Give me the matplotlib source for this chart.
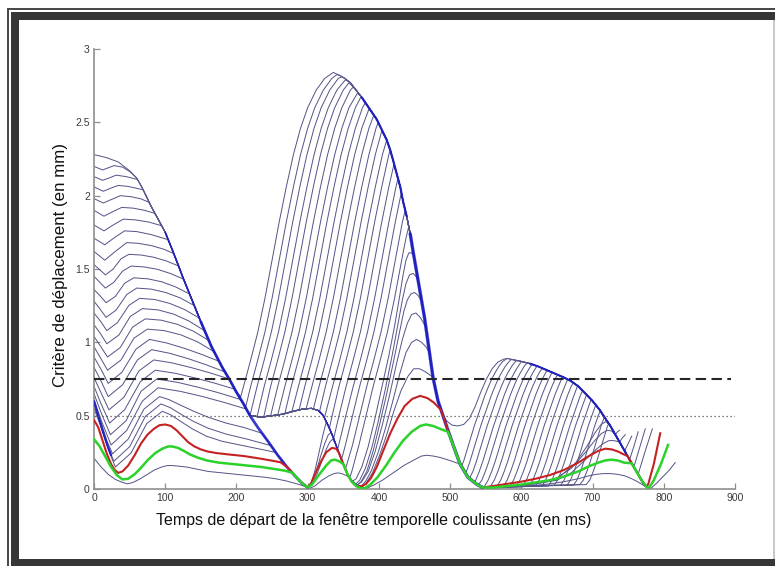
import matplotlib
matplotlib.use("Agg")
import matplotlib.pyplot as plt
from matplotlib.patches import Rectangle

# ---------------- data ----------------
X_TICKS = [0, 100, 200, 300, 400, 500, 600, 700, 800, 900]
Y_TICKS = [0, 0.5, 1, 1.5, 2, 2.5, 3]
Y_TICK_LABELS = ["0", "0.5", "1", "1.5", "2", "2.5", "3"]
THRESH_DASHED = 0.75
THRESH_DOTTED = 0.5

# shared envelopes (where many curves coincide)
ENV_A_X = [0, 17, 34, 50, 60, 67, 74, 81, 90, 100, 110, 118, 125, 135, 150, 165, 180, 191, 200, 210, 219, 230, 245, 258, 271, 282, 292, 300]
ENV_A_Y = [2.28, 2.26, 2.23, 2.17, 2.12, 2.06, 1.99, 1.92, 1.84, 1.75, 1.63, 1.53, 1.44, 1.32, 1.14, 0.97, 0.83, 0.74, 0.66, 0.58, 0.50, 0.42, 0.32, 0.23, 0.15, 0.09, 0.04, 0.01]
FLOOR_X = [219, 235, 250, 265, 280, 293, 305, 315, 322, 330, 336, 342, 350, 356, 362, 368, 375]
FLOOR_Y = [0.50, 0.49, 0.50, 0.51, 0.53, 0.545, 0.55, 0.535, 0.50, 0.42, 0.35, 0.27, 0.17, 0.10, 0.05, 0.02, 0.005]
ENV_B_X = [336, 345, 352, 360, 368, 376, 383, 390, 397, 404, 411, 416, 420, 425, 430, 434, 439, 444, 448, 453, 458, 464, 469, 476, 483, 490, 497, 505, 514, 525, 538, 546]
ENV_B_Y = [2.85, 2.82, 2.80, 2.77, 2.72, 2.67, 2.62, 2.57, 2.52, 2.45, 2.38, 2.31, 2.24, 2.15, 2.06, 1.96, 1.86, 1.74, 1.62, 1.48, 1.34, 1.17, 1.00, 0.76, 0.60, 0.50, 0.40, 0.29, 0.17, 0.08, 0.03, 0.01]
ENV_C_X = [569, 580, 590, 600, 612, 624, 636, 648, 660, 670, 680, 690, 700, 710, 718, 725, 732, 738, 745, 752, 758, 764, 770, 775, 779]
ENV_C_Y = [0.885, 0.89, 0.88, 0.87, 0.855, 0.835, 0.81, 0.785, 0.76, 0.735, 0.70, 0.65, 0.60, 0.54, 0.48, 0.43, 0.37, 0.32, 0.26, 0.20, 0.15, 0.10, 0.05, 0.02, 0.005]
ENV_L_X = [0, 6, 12, 18, 24]
ENV_L_Y = [0.60, 0.50, 0.40, 0.31, 0.23]

# individual curves: literal (x, y) points plus slices of the shared envelopes
G0 = [('A', 0, 200), (206, 0.63), (210, 0.70), (220, 0.88), (230, 1.07), (240, 1.30), (250, 1.56), (260, 1.82), (270, 2.06), (280, 2.28), (290, 2.46), (300, 2.60), (312, 2.72), (324, 2.80), (336, 2.84), ('B', 345, 490), (496, 0.46), (503, 0.435), (511, 0.43), (519, 0.44), (527, 0.48), (535, 0.56), (543, 0.66), (551, 0.75), (559, 0.82), (567, 0.865), (575, 0.885), ('C', 580, 779)]
G1 = [(0, 2.20), (12, 2.175), (20, 2.19), (28, 2.205), (40, 2.195), (50, 2.165), ('A', 60, 210), (213, 0.56), (220, 0.70), (230, 0.88), (240, 1.07), (250, 1.30), (260, 1.56), (270, 1.82), (280, 2.06), (290, 2.28), (300, 2.46), (310, 2.60), (322, 2.72), (334, 2.80), (341, 2.825), ('B', 345, 514), (516, 0.155), (519, 0.19), (524, 0.27), (529, 0.35), (534, 0.43), (539, 0.50), (544, 0.57), (549, 0.64), (554, 0.70), (559, 0.755), (564, 0.80), (569, 0.84), (574, 0.87), ('C', 580, 779)]
G2 = [(0, 2.13), (12, 2.105), (21, 2.12), (31, 2.14), (45, 2.13), (55, 2.118), (61, 2.11), ('A', 67, 219), (229, 0.70), (239, 0.88), (249, 1.07), (259, 1.30), (269, 1.56), (279, 1.82), (289, 2.06), (299, 2.28), (309, 2.46), (319, 2.60), (331, 2.72), (343, 2.80), (348, 2.81), ('B', 352, 514), (521.5, 0.105), (523, 0.12), (528, 0.19), (533, 0.27), (538, 0.35), (543, 0.43), (548, 0.50), (553, 0.57), (558, 0.64), (563, 0.70), (568, 0.755), (573, 0.80), (578, 0.84), (583, 0.87), (586, 0.883), ('C', 590, 779)]
G3 = [(0, 2.06), (13, 2.03), (23, 2.05), (34, 2.07), (48, 2.063), (60, 2.05), (69, 2.04), ('A', 74, 219), (229, 0.495), (239, 0.70), (249, 0.88), (259, 1.07), (269, 1.30), (279, 1.56), (289, 1.82), (299, 2.06), (309, 2.28), (319, 2.46), (329, 2.60), (341, 2.72), (353, 2.79), ('B', 360, 525), (527, 0.07), (532, 0.12), (537, 0.19), (542, 0.27), (547, 0.35), (552, 0.43), (557, 0.50), (562, 0.57), (567, 0.64), (572, 0.70), (577, 0.755), (582, 0.80), (587, 0.84), (592, 0.87), (594, 0.876), ('C', 600, 779)]
G4 = [(0, 1.98), (13, 1.95), (25, 1.975), (37, 2.00), (52, 1.993), (66, 1.978), (77, 1.955), ('A', 81, 219), ('F', 235, 235), (238.5, 0.495), (248, 0.70), (258, 0.88), (268, 1.07), (278, 1.30), (288, 1.56), (298, 1.82), (308, 2.06), (318, 2.28), (328, 2.46), (338, 2.60), (350, 2.72), (358, 2.77), ('B', 368, 525), (533.5, 0.045), (536, 0.06), (541, 0.12), (546, 0.19), (551, 0.27), (556, 0.35), (561, 0.43), (566, 0.50), (571, 0.57), (576, 0.64), (581, 0.70), (586, 0.755), (591, 0.80), (596, 0.84), (600, 0.868), ('C', 612, 779)]
G5 = [(0, 1.90), (14, 1.86), (26, 1.89), (39, 1.92), (55, 1.915), (71, 1.90), (85, 1.88), ('A', 90, 219), ('F', 235, 235), (248, 0.50), (258, 0.70), (268, 0.88), (278, 1.07), (288, 1.30), (298, 1.56), (308, 1.82), (318, 2.06), (328, 2.28), (338, 2.46), (348, 2.60), (360, 2.72), (364, 2.74), ('B', 368, 538), (539.5, 0.025), (544.5, 0.06), (549.5, 0.12), (554.5, 0.19), (559.5, 0.27), (564.5, 0.35), (569.5, 0.43), (574.5, 0.50), (579.5, 0.57), (584.5, 0.64), (589.5, 0.70), (594.5, 0.755), (599.5, 0.80), (604.5, 0.84), (608, 0.86), ('C', 612, 779)]
G6 = [(0, 1.80), (14, 1.76), (27, 1.80), (41, 1.84), (58, 1.835), (77, 1.82), (95, 1.795), ('A', 100, 219), ('F', 235, 250), (258, 0.505), (268, 0.70), (278, 0.88), (288, 1.07), (298, 1.30), (308, 1.56), (318, 1.82), (328, 2.06), (338, 2.28), (348, 2.46), (358, 2.60), (370, 2.70), ('B', 376, 546), (548.4, 0.02), (553.4, 0.06), (558.4, 0.12), (563.4, 0.19), (568.4, 0.27), (573.4, 0.35), (578.4, 0.43), (583.4, 0.50), (588.4, 0.57), (593.4, 0.64), (598.4, 0.70), (603.4, 0.755), (608.4, 0.80), (613.4, 0.84), (616, 0.849), ('C', 624, 779)]
G7 = [(0, 1.71), (15, 1.665), (29, 1.715), (43, 1.76), (60, 1.755), (80, 1.735), (104, 1.70), ('A', 110, 219), ('F', 235, 265), (268, 0.515), (277, 0.70), (287, 0.88), (297, 1.07), (307, 1.30), (317, 1.56), (327, 1.82), (337, 2.06), (347, 2.28), (357, 2.46), (367, 2.60), (375, 2.675), ('B', 383, 546), (557, 0.02), (562, 0.06), (567, 0.12), (572, 0.19), (577, 0.27), (582, 0.35), (587, 0.43), (592, 0.50), (597, 0.57), (602, 0.64), (607, 0.70), (612, 0.755), (617, 0.80), (622, 0.838), ('C', 624, 779)]
G8 = [(0, 1.62), (15, 1.56), (30, 1.62), (46, 1.68), (62, 1.675), (80, 1.66), (98, 1.635), (112, 1.605), ('A', 118, 219), ('F', 235, 265), (278, 0.53), (287, 0.70), (297, 0.88), (307, 1.07), (317, 1.30), (327, 1.56), (337, 1.82), (347, 2.06), (357, 2.28), (367, 2.46), (377, 2.60), (381, 2.635), ('B', 383, 546), (566, 0.02), (571, 0.06), (576, 0.12), (581, 0.19), (586, 0.27), (591, 0.35), (596, 0.43), (601, 0.50), (606, 0.57), (611, 0.64), (616, 0.70), (621, 0.755), (626, 0.80), (630, 0.823), ('C', 636, 779)]
G9 = [(0, 1.53), (16, 1.46), (27, 1.50), (38, 1.57), (49, 1.60), (66.5, 1.595), (84, 1.58), (101.5, 1.555), (119, 1.52), ('A', 125, 219), ('F', 235, 280), (288, 0.54), (296, 0.70), (306, 0.88), (316, 1.07), (326, 1.30), (336, 1.56), (346, 1.82), (356, 2.06), (366, 2.28), (376, 2.46), (386, 2.59), ('B', 390, 546), (575, 0.02), (580, 0.06), (585, 0.12), (590, 0.19), (595, 0.27), (600, 0.35), (605, 0.43), (610, 0.50), (615, 0.57), (620, 0.64), (625, 0.70), (630, 0.755), (635, 0.80), (638, 0.806), ('C', 648, 779)]
G10 = [(0, 1.45), (16, 1.37), (28, 1.41), (40, 1.485), (52, 1.52), (70.5, 1.514), (89, 1.498), (107.5, 1.469), (126, 1.43), ('A', 135, 219), ('F', 235, 293), (298, 0.55), (306, 0.70), (316, 0.88), (326, 1.07), (336, 1.30), (346, 1.56), (356, 1.82), (366, 2.06), (376, 2.28), (386, 2.46), (393, 2.55), ('B', 397, 546), (584, 0.02), (589, 0.06), (594, 0.12), (599, 0.19), (604, 0.27), (609, 0.35), (614, 0.43), (619, 0.50), (624, 0.57), (629, 0.64), (634, 0.70), (639, 0.755), (643, 0.795), ('C', 648, 779)]
G11 = [(0, 1.36), (8, 1.32), (17, 1.27), (30, 1.313), (43, 1.403), (56, 1.44), (75.5, 1.433), (95, 1.413), (114.5, 1.378), (134, 1.33), ('A', 135, 219), ('F', 235, 305), (308, 0.545), (316, 0.70), (326, 0.88), (336, 1.07), (346, 1.30), (356, 1.56), (366, 1.82), (376, 2.06), (386, 2.28), (396, 2.46), (399, 2.50), ('B', 404, 546), (593, 0.02), (598, 0.06), (603, 0.12), (608, 0.19), (613, 0.27), (618, 0.35), (623, 0.43), (628, 0.50), (633, 0.57), (638, 0.64), (643, 0.70), (648, 0.755), (651, 0.779), ('C', 660, 779)]
G12 = [(0, 1.28), (8, 1.23), (17, 1.17), (31, 1.22), (46, 1.326), (60, 1.37), (80, 1.363), (100.5, 1.34), (121, 1.303), (141, 1.25), ('A', 150, 219), ('F', 235, 315), (316.5, 0.525), (325, 0.70), (335, 0.88), (345, 1.07), (355, 1.30), (365, 1.56), (375, 1.82), (385, 2.06), (395, 2.28), (404, 2.44), ('B', 411, 546), (602, 0.02), (607, 0.06), (612, 0.12), (617, 0.19), (622, 0.27), (627, 0.35), (632, 0.43), (637, 0.50), (642, 0.57), (647, 0.64), (652, 0.70), (657, 0.755), (659, 0.762), ('C', 670, 779)]
G13 = [(0, 1.20), (9, 1.145), (18, 1.08), (33, 1.135), (49, 1.252), (64, 1.30), (85, 1.292), (106, 1.266), (127, 1.224), (148, 1.165), ('A', 150, 219), ('F', 235, 322), (323.5, 0.485), (335, 0.70), (345, 0.88), (355, 1.07), (365, 1.30), (375, 1.56), (385, 1.82), (395, 2.06), (405, 2.28), (411, 2.38), ('B', 416, 546), (611, 0.02), (616, 0.06), (621, 0.12), (626, 0.19), (631, 0.27), (636, 0.35), (641, 0.43), (646, 0.50), (651, 0.57), (656, 0.64), (661, 0.70), (665, 0.748), ('C', 670, 779)]
G14 = [(0, 1.12), (9, 1.06), (18, 0.99), (35, 1.05), (51, 1.177), (68, 1.23), (90, 1.221), (111.5, 1.193), (133, 1.146), (155, 1.08), ('A', 165, 219), ('F', 235, 330), (330.5, 0.415), (334.4, 0.50), (344, 0.70), (354, 0.88), (364, 1.07), (374, 1.30), (384, 1.56), (394, 1.82), (404, 2.06), (414, 2.28), (416, 2.31), ('B', 420, 546), (620, 0.02), (625, 0.06), (630, 0.12), (635, 0.19), (640, 0.27), (645, 0.35), (650, 0.43), (655, 0.50), (660, 0.57), (665, 0.64), (670, 0.70), (673, 0.725), ('C', 680, 779)]
G15 = [(0, 1.04), (9, 0.975), (19, 0.90), (37, 0.965), (54, 1.103), (72, 1.16), (94.5, 1.151), (117, 1.123), (139.5, 1.076), (162, 1.01), ('A', 165, 219), ('F', 235, 336), (336.5, 0.345), (344, 0.50), (354, 0.70), (364, 0.88), (374, 1.07), (384, 1.30), (394, 1.56), (404, 1.82), (414, 2.06), (421, 2.21), ('B', 425, 546), (629, 0.02), (634, 0.06), (639, 0.12), (644, 0.19), (649, 0.27), (654, 0.35), (659, 0.43), (664, 0.50), (669, 0.57), (674, 0.64), (679, 0.703), ('C', 680, 779)]
G16 = [(0, 0.97), (9, 0.895), (19, 0.81), (38, 0.88), (56, 1.028), (75, 1.09), (98.5, 1.08), (122, 1.051), (145.5, 1.003), (169, 0.935), ('A', 180, 219), ('F', 235, 342), (343.6, 0.30), (353.6, 0.50), (364, 0.70), (374, 0.88), (384, 1.07), (394, 1.30), (404, 1.56), (414, 1.82), (424, 2.06), (427, 2.12), ('B', 430, 546), (638, 0.02), (643, 0.06), (648, 0.12), (653, 0.19), (658, 0.27), (663, 0.35), (668, 0.43), (673, 0.50), (678, 0.57), (683, 0.64), (686, 0.67), ('C', 690, 779)]
G17 = [(0, 0.90), (10, 0.815), (20, 0.72), (39, 0.795), (59, 0.954), (78, 1.02), (102.5, 0.995), (127, 0.959), (151.5, 0.917), (176, 0.87), ('A', 180, 219), ('F', 235, 342), (347.5, 0.20), (353, 0.30), (363, 0.50), (373, 0.70), (383, 0.88), (393, 1.07), (403, 1.30), (413, 1.56), (423, 1.82), (431.5, 2.02), ('B', 434, 546), (600, 0.02), (646, 0.025), (651, 0.06), (656, 0.12), (661, 0.19), (666, 0.27), (671, 0.35), (676, 0.43), (681, 0.50), (686, 0.57), (691.5, 0.642), ('C', 700, 779)]
G18 = [(0, 0.83), (10, 0.735), (20, 0.63), (40, 0.71), (61, 0.88), (81, 0.95), (106.5, 0.925), (132, 0.889), (157.5, 0.847), (183, 0.80), ('A', 191, 219), ('F', 235, 350), (353, 0.135), (363, 0.30), (373, 0.50), (383, 0.70), (393, 0.88), (403, 1.07), (413, 1.30), (423, 1.56), (433, 1.82), (437, 1.90), ('B', 439, 546), (600, 0.02), (655, 0.025), (660, 0.06), (665, 0.12), (670, 0.19), (675, 0.27), (680, 0.35), (685, 0.43), (690, 0.50), (695, 0.57), (698, 0.61), ('C', 700, 779)]
G19 = [(0, 0.76), (10, 0.655), (21, 0.54), (42, 0.625), (63, 0.805), (84, 0.88), (110.5, 0.859), (137, 0.827), (163.5, 0.791), (190, 0.75), ('A', 191, 219), ('F', 235, 356), (359, 0.075), (362, 0.12), (372, 0.30), (382, 0.50), (392, 0.70), (402, 0.88), (412, 1.07), (422, 1.30), (432, 1.56), (438, 1.71), (441.5, 1.78), ('B', 444, 546), (600, 0.02), (664, 0.025), (669, 0.06), (674, 0.12), (679, 0.19), (684, 0.27), (689, 0.35), (694, 0.43), (699, 0.50), (704.5, 0.573), ('C', 710, 779)]
G20 = [(0, 0.70), (10, 0.58), (22, 0.45), (43, 0.54), (65, 0.731), (86, 0.81), (114, 0.789), (142, 0.757), (170, 0.721), (198, 0.68), ('A', 200, 219), ('F', 235, 362), (368, 0.07), (376, 0.15), (385, 0.29), (394, 0.47), (404, 0.69), (414, 0.91), (422, 1.11), (429, 1.31), (434, 1.46), (438, 1.56), (442, 1.61), (446, 1.61), (449, 1.59), ('B', 453, 546), (600, 0.02), (673, 0.025), (678, 0.06), (683, 0.12), (688, 0.19), (693, 0.27), (698, 0.35), (703, 0.43), (708, 0.50), (711, 0.535), ('C', 718, 732), (735, 0.39), (738, 0.40)]
G21 = [(0, 0.65), (10, 0.52), (23, 0.37), (45, 0.465), (66, 0.666), (88, 0.75), (117.5, 0.727), (147, 0.693), (176.5, 0.654), (206, 0.61), ('A', 210, 219), ('F', 235, 362), (366, 0.025), (373, 0.06), (381, 0.14), (390, 0.28), (399, 0.46), (409, 0.68), (419, 0.92), (427, 1.13), (433, 1.29), (438, 1.40), (443, 1.46), (448, 1.47), (452, 1.45), (455, 1.42), ('B', 458, 546), (600, 0.02), (682, 0.03), (687, 0.06), (692, 0.12), (697, 0.19), (702, 0.27), (707, 0.35), (712, 0.43), (716.5, 0.49), ('C', 718, 738), (742, 0.35), (746, 0.37)]
G22 = [(0, 0.61), (10, 0.47), (24, 0.30), (46, 0.40), (68, 0.60), (90, 0.69), (121, 0.666), (152, 0.631), (183, 0.590), (214, 0.545), ('A', 219, 219), ('F', 235, 368), (375, 0.05), (383, 0.12), (392, 0.26), (401, 0.44), (411, 0.65), (421, 0.88), (429, 1.07), (435, 1.21), (440, 1.29), (445, 1.33), (450, 1.34), (455, 1.32), (460, 1.28), ('B', 464, 546), (600, 0.02), (691, 0.03), (696, 0.06), (701, 0.12), (706, 0.19), (711, 0.27), (716, 0.35), (721, 0.43), (723, 0.445), ('C', 725, 745), (750, 0.31), (755, 0.36)]
G23 = [(0, 0.59), (10, 0.45), (18, 0.33), (26, 0.24), (48, 0.34), (70, 0.544), (92, 0.63), (105, 0.61), (120, 0.575), (140, 0.53), (160, 0.49), (185, 0.45), (210, 0.42), (236, 0.38), ('A', 245, 300), (304, 0.03), (310, 0.12), (316, 0.25), (321, 0.36), (326, 0.455), ('F', 330, 368), (376, 0.05), (385, 0.12), (395, 0.26), (405, 0.44), (415, 0.64), (425, 0.86), (433, 1.02), (440, 1.13), (446, 1.19), (452, 1.20), (458, 1.17), (463, 1.13), (466, 1.10), ('B', 469, 546), (580, 0.02), (620, 0.04), (650, 0.07), (675, 0.17), (692, 0.29), (703, 0.38), (712, 0.44), (719, 0.46), ('C', 725, 752), (758, 0.29), (764, 0.39)]
G24 = [(0, 0.57), (10, 0.43), (19, 0.29), (28, 0.19), (50, 0.288), (72, 0.494), (94, 0.58), (107, 0.555), (122, 0.51), (140, 0.46), (160, 0.415), (185, 0.375), (215, 0.34), (249, 0.295), ('A', 258, 300), (305, 0.03), (312, 0.12), (318, 0.22), (324, 0.31), (329, 0.37), (333, 0.385), ('F', 336, 368), (375, 0.02), (381, 0.05), (389, 0.12), (399, 0.25), (409, 0.41), (419, 0.59), (429, 0.78), (438, 0.93), (446, 1.00), (453, 1.02), (460, 1.00), (466, 0.97), (471, 0.93), ('B', 476, 546), (580, 0.02), (620, 0.035), (645, 0.06), (670, 0.14), (690, 0.25), (703, 0.33), (713, 0.38), (721, 0.40), (727, 0.395), ('C', 732, 758), (766, 0.28), (774, 0.41)]
G25 = [(0, 0.55), (10, 0.42), (20, 0.27), (30, 0.15), (52, 0.245), (74, 0.446), (96, 0.53), (108, 0.505), (122, 0.46), (138, 0.41), (158, 0.36), (180, 0.325), (210, 0.295), (235, 0.27), (255, 0.25), ('A', 258, 300), (306, 0.03), (313, 0.10), (320, 0.19), (326, 0.27), (331, 0.32), (335, 0.34), (339, 0.31), ('F', 342, 375), (382, 0.04), (391, 0.11), (401, 0.23), (411, 0.37), (421, 0.53), (431, 0.67), (441, 0.77), (449, 0.82), (457, 0.82), (465, 0.80), (471, 0.78), ('B', 476, 546), (580, 0.02), (620, 0.035), (650, 0.06), (670, 0.11), (690, 0.20), (705, 0.27), (715, 0.31), (723, 0.33), (730, 0.33), ('C', 738, 764), (774, 0.26), (784, 0.41)]
BOTTOM = [(0, 0.21), (10, 0.15), (20, 0.10), (30, 0.065), (40, 0.045), (47, 0.035), (55, 0.045), (65, 0.07), (75, 0.10), (85, 0.13), (95, 0.15), (103, 0.16), (110, 0.16), (120, 0.155), (130, 0.15), (145, 0.135), (160, 0.12), (180, 0.11), (200, 0.10), (220, 0.09), (240, 0.08), (255, 0.07), (270, 0.055), (285, 0.035), (295, 0.02), (303, 0.005), (310, 0.02), (320, 0.06), (330, 0.09), (337, 0.105), (342, 0.11), (348, 0.105), (355, 0.09), (362, 0.06), (370, 0.025), (377, 0.005), (383, 0.005), (392, 0.025), (405, 0.06), (420, 0.11), (435, 0.16), (450, 0.20), (460, 0.225), (467, 0.23), (476, 0.225), (486, 0.215), (496, 0.20), (505, 0.185), (511, 0.175), ('B', 514, 546), (560, 0.005), (580, 0.01), (600, 0.015), (620, 0.025), (640, 0.035), (660, 0.05), (680, 0.07), (695, 0.09), (705, 0.10), (715, 0.105), (725, 0.105), (735, 0.10), (745, 0.09), (755, 0.07), (763, 0.05), (770, 0.03), (776, 0.01), (781, 0.0), (790, 0.04), (800, 0.09), (808, 0.13), (816, 0.18)]
RED = [(0, 0.47), (6, 0.42), (12, 0.33), (18, 0.24), (24, 0.17), (29, 0.13), (34, 0.11), (40, 0.12), (48, 0.16), (57, 0.23), (66, 0.31), (75, 0.37), (84, 0.41), (92, 0.435), (100, 0.44), (108, 0.43), (116, 0.40), (124, 0.36), (132, 0.32), (141, 0.29), (150, 0.27), (160, 0.255), (172, 0.245), (190, 0.235), (210, 0.225), (230, 0.21), (248, 0.195), (262, 0.182), ('A', 271, 300), (305, 0.04), (312, 0.12), (319, 0.19), (326, 0.25), (334, 0.28), (340, 0.275), (344, 0.245), ('F', 350, 368), (376, 0.02), (382, 0.035), (389, 0.075), (397, 0.15), (406, 0.26), (416, 0.38), (426, 0.48), (436, 0.565), (447, 0.615), (458, 0.635), (468, 0.62), (477, 0.59), (487, 0.54), ('B', 490, 546), (560, 0.02), (580, 0.035), (600, 0.05), (620, 0.07), (640, 0.095), (660, 0.13), (680, 0.18), (695, 0.225), (708, 0.26), (718, 0.275), (727, 0.27), (736, 0.255), (742, 0.24), (749, 0.225), ('C', 752, 775), (778, 0.03), (786, 0.17), (795, 0.38)]
GREEN = [(0, 0.34), (8, 0.29), (16, 0.22), (24, 0.15), (32, 0.095), (40, 0.065), (48, 0.07), (57, 0.10), (66, 0.145), (76, 0.20), (86, 0.245), (96, 0.275), (104, 0.29), (110, 0.29), (118, 0.28), (126, 0.26), (135, 0.235), (145, 0.215), (158, 0.195), (175, 0.18), (195, 0.17), (215, 0.16), (235, 0.15), (255, 0.135), (268, 0.125), (279, 0.11), ('A', 282, 300), (306, 0.03), (312, 0.07), (318, 0.11), (326, 0.16), (333, 0.195), (338, 0.20), (344, 0.19), ('F', 350, 375), (380, 0.005), (388, 0.03), (398, 0.08), (410, 0.16), (422, 0.25), (434, 0.33), (446, 0.39), (458, 0.43), (466, 0.44), (476, 0.43), (486, 0.41), (497, 0.39), ('B', 505, 546), (560, 0.01), (580, 0.02), (600, 0.03), (620, 0.045), (640, 0.06), (660, 0.085), (680, 0.12), (695, 0.155), (708, 0.18), (718, 0.195), (726, 0.20), (735, 0.195), (744, 0.18), (755, 0.175), ('C', 758, 779), (786, 0.06), (796, 0.17), (806, 0.30)]

GRAY_CURVES = [G0, G1, G2, G3, G4, G5, G6, G7, G8, G9, G10, G11, G12, G13,
               G14, G15, G16, G17, G18, G19, G20, G21, G22, G23, G24, G25, BOTTOM]

ENVS = {'A': (ENV_A_X, ENV_A_Y), 'F': (FLOOR_X, FLOOR_Y),
        'B': (ENV_B_X, ENV_B_Y), 'C': (ENV_C_X, ENV_C_Y), 'L': (ENV_L_X, ENV_L_Y)}


def build(spec):
    xs, ys = [], []
    for item in spec:
        if isinstance(item[0], str):
            name, lo, hi = item
            ex, ey = ENVS[name]
            for x, y in zip(ex, ey):
                if lo <= x <= hi:
                    xs.append(x)
                    ys.append(y)
        else:
            xs.append(item[0])
            ys.append(item[1])
    return xs, ys


# ---------------- figure ----------------
W, H = 775, 566
fig = plt.figure(figsize=(W / 100, H / 100), dpi=100)
fig.patch.set_facecolor("white")


def band(x0, y0, x1, y1, color):
    fig.add_artist(Rectangle((x0 / W, 1 - y1 / H), (x1 - x0) / W, (y1 - y0) / H,
                             transform=fig.transFigure, facecolor=color,
                             edgecolor="none", zorder=0))


band(7, 8, 775, 10, "#4a4a4a")      # thin outer line top
band(7, 8, 9, 566, "#4a4a4a")       # thin outer line left
band(11, 12, 775, 20, "#363636")    # thick band top
band(11, 12, 19, 566, "#363636")    # thick band left
band(11, 559, 775, 566, "#363636")  # thick band bottom
band(773, 20, 775, 559, "#c8c8c8")  # light line right

ax = fig.add_axes([94 / W, 77 / H, 641 / W, 440 / H])
ax.set_xlim(0, 900)
ax.set_ylim(0, 3)
ax.patch.set_alpha(0)

GRAY = "#56568a"
BLUE = "#1818c8"

for spec in GRAY_CURVES:
    xs, ys = build(spec)
    ax.plot(xs, ys, color=GRAY, lw=0.72, solid_joinstyle="round", zorder=2)

# dense bundles (many coincident curves) appear saturated blue
overlays = [('A', 95, 150, 1.2), ('A', 150, 300, 2.0), ('B', 376, 440, 1.6),
            ('B', 440, 546, 2.4), ('C', 610, 779, 1.5), ('F', 315, 362, 1.0),
            ('L', 0, 24, 1.6)]
for name, lo, hi, lw in overlays:
    xs, ys = build([(name, lo, hi)])
    ax.plot(xs, ys, color=BLUE, lw=lw, alpha=0.85, solid_capstyle="round", zorder=3)

xs, ys = build(RED)
ax.plot(xs, ys, color="#c42222", lw=1.5, zorder=4)
xs, ys = build(GREEN)
ax.plot(xs, ys, color="#2ad22a", lw=1.8, zorder=4)

ax.plot([0, 895], [THRESH_DASHED, THRESH_DASHED], color="#262626", lw=1.5,
        dashes=(5.0, 2.6), zorder=5)
ax.plot([0, 900], [THRESH_DOTTED, THRESH_DOTTED], color="#555555", lw=0.9,
        dashes=(1.0, 2.2), zorder=5)

for s in ("top", "right"):
    ax.spines[s].set_visible(False)
for s in ("left", "bottom"):
    ax.spines[s].set_color("#8f8f8f")
    ax.spines[s].set_linewidth(1.2)

tick_font = ["Liberation Sans Narrow", "Liberation Sans", "DejaVu Sans"]
ax.set_xticks(X_TICKS)
ax.set_xticklabels([str(v) for v in X_TICKS], fontsize=7.5, family=tick_font, color="#3a3a3a")
ax.set_yticks(Y_TICKS)
ax.set_yticklabels(Y_TICK_LABELS, fontsize=7.5, family=tick_font, color="#3a3a3a")
ax.tick_params(direction="in", length=4, width=0.9, color="#8f8f8f", pad=3)

fig.text(374 / W, 1 - 521 / H, "Temps de départ de la fenêtre temporelle coulissante (en ms)",
         ha="center", va="center", fontsize=11.5, family=["Liberation Sans", "DejaVu Sans"],
         color="#111111")
fig.text(61 / W, 1 - 265 / H, "Critère de déplacement (en mm)", rotation=90,
         ha="center", va="center", fontsize=12.2, family=["Liberation Sans", "DejaVu Sans"],
         color="#111111")

fig.savefig("out.png", dpi=100)
